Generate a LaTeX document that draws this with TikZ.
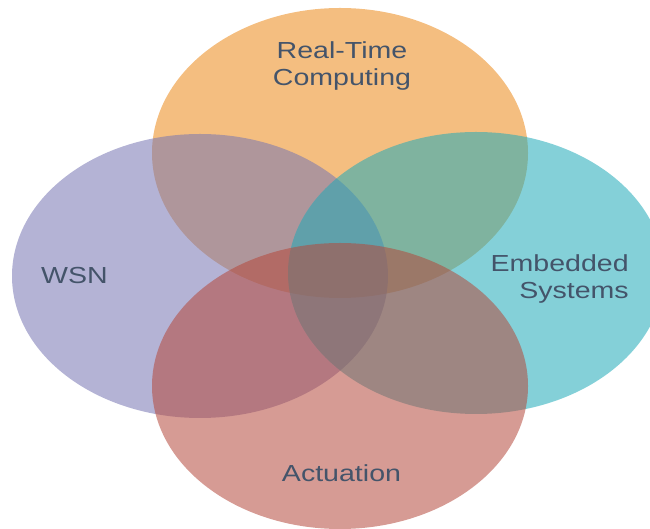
\documentclass[tikz,border=0pt]{standalone}
\usepackage{fontspec}
\setmainfont{Liberation Sans}
\usepackage{tikz}
\usetikzlibrary{positioning, calc}
\definecolor{rtcorange}{RGB}{235,137,24}
\definecolor{wsnpurple}{RGB}{119,117,179}
\definecolor{embteal}{RGB}{31,170,184}
\definecolor{actred}{RGB}{180,73,60}
\definecolor{lbltext}{RGB}{68,84,106}
\tikzset{
    vlabel/.style={font=\fontsize{23.3}{26.3}\selectfont, text=lbltext, inner sep=0, xscale=1.23, transform shape},
}
\newcommand{\vset}[4]{
    \fill[#4, fill opacity=0.55] (#1,#2) ellipse [x radius=188, y radius=#3];
}

\begin{document}
\begin{tikzpicture}[x=1bp, y=1bp]
                    \useasboundingbox (0,0) rectangle (650,529);
                    \vset{340}{376}{145}{rtcorange}
                    \vset{200}{253}{142}{wsnpurple}
                    \vset{476}{256}{141}{embteal}
                    \vset{340}{143}{143}{actred}
                    \node[vlabel, align=center] (rtc) at (342,463) {Real-Time\\Computing};
                    \node[vlabel, anchor=base] (wsn) at (74.5,245) {WSN};
                    \node[vlabel, align=right, anchor=east] (emb) at (629,250) {Embedded\\Systems};
                    \node[vlabel, anchor=base] (act) at (341.5,47) {Actuation};
                \end{tikzpicture}
\end{document}
